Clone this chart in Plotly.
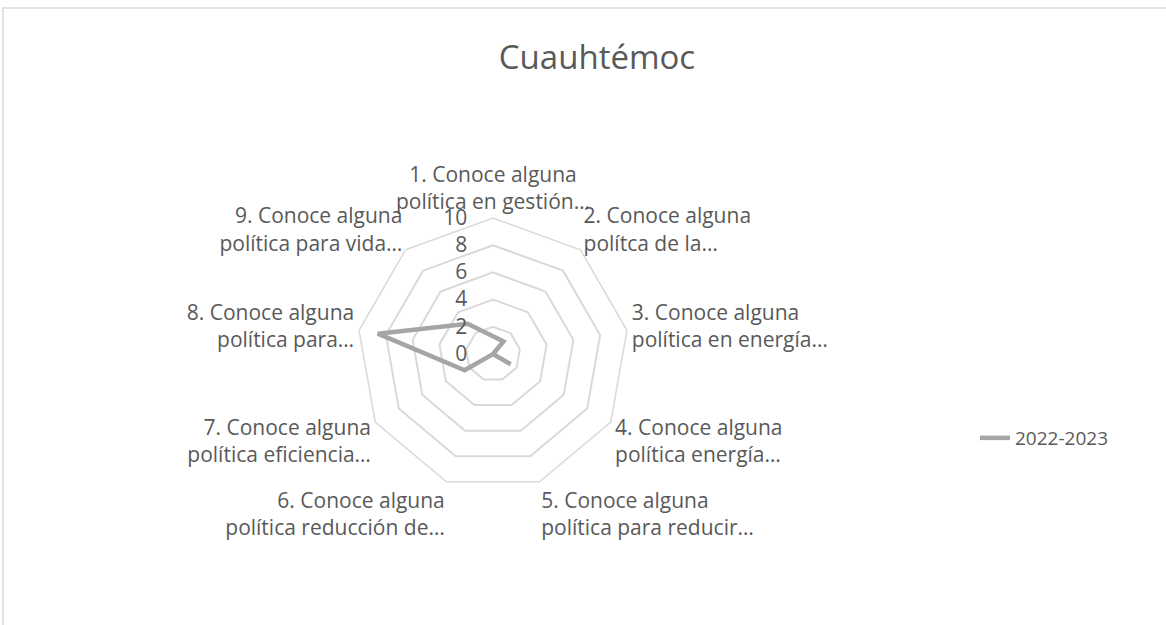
import plotly.graph_objects as go

# categories (axis labels, truncated as in the original chart)
categories = [
    "1. Conoce alguna<br>política en gestión…",
    "2. Conoce alguna<br>polítca de la…",
    "3. Conoce alguna<br>política en energía…",
    "4. Conoce alguna<br>política energía…",
    "5. Conoce alguna<br>política para reducir…",
    "6. Conoce alguna<br>política reducción de…",
    "7. Conoce alguna<br>política eficiencia…",
    "8. Conoce alguna<br>política para…",
    "9. Conoce alguna<br>política para vida…",
]
values_2022 = [1.3, 1.2, 0, 1.5, 0, 0, 2.4, 8.6, 2.9]
radial_ticks = [0, 2, 4, 6, 8, 10]

W, H = 1166, 625
cx, cy, R = 493, 354, 136  # pixel centre and radius of the radar

grey_text = "#595959"
grid = "#d9d9d9"

fig = go.Figure()
fig.add_trace(
    go.Scatterpolar(
        r=values_2022 + values_2022[:1],
        theta=categories + categories[:1],
        mode="lines",
        name="2022-2023",
        line=dict(color="#a5a5a5", width=4.5),
    )
)

fig.update_layout(
    width=W,
    height=H,
    margin=dict(l=0, r=0, t=0, b=0),
    paper_bgcolor="white",
    font=dict(family="Open Sans", size=18, color=grey_text),
    title=dict(
        text="Cuauhtémoc",
        x=597 / W,
        y=1 - 57 / H,
        xanchor="center",
        yanchor="middle",
        font=dict(size=33, color=grey_text),
    ),
    polar=dict(
        domain=dict(x=[(cx - R) / W, (cx + R) / W], y=[(H - cy - R) / H, (H - cy + R) / H]),
        gridshape="linear",
        bgcolor="white",
        radialaxis=dict(
            range=[0, 10],
            tickvals=radial_ticks,
            angle=90,
            tickangle=90,
            side="counterclockwise",
            showline=False,
            ticks="outside",
            ticklen=18,
            tickcolor="rgba(0,0,0,0)",
            gridcolor=grid,
            gridwidth=1.5,
            tickfont=dict(size=21, color=grey_text),
        ),
        angularaxis=dict(
            direction="clockwise",
            rotation=90,
            showgrid=False,
            showline=True,
            linecolor=grid,
            linewidth=1.5,
            ticks="",
            tickfont=dict(size=21, color=grey_text),
        ),
    ),
    showlegend=True,
    legend=dict(
        x=975 / W,
        y=1 - 438 / H,
        xanchor="left",
        yanchor="middle",
        font=dict(size=19, color=grey_text),
        bgcolor="rgba(0,0,0,0)",
    ),
    shapes=[
        dict(
            type="rect",
            xref="paper",
            yref="paper",
            x0=3 / W,
            x1=1.01,
            y0=-0.02,
            y1=1 - 8 / H,
            line=dict(color=grid, width=1.5),
            fillcolor="rgba(0,0,0,0)",
        )
    ],
)

fig.write_html(
    "out.html",
    config={"displayModeBar": False},
    post_script="document.body.style.margin='0';",
)
